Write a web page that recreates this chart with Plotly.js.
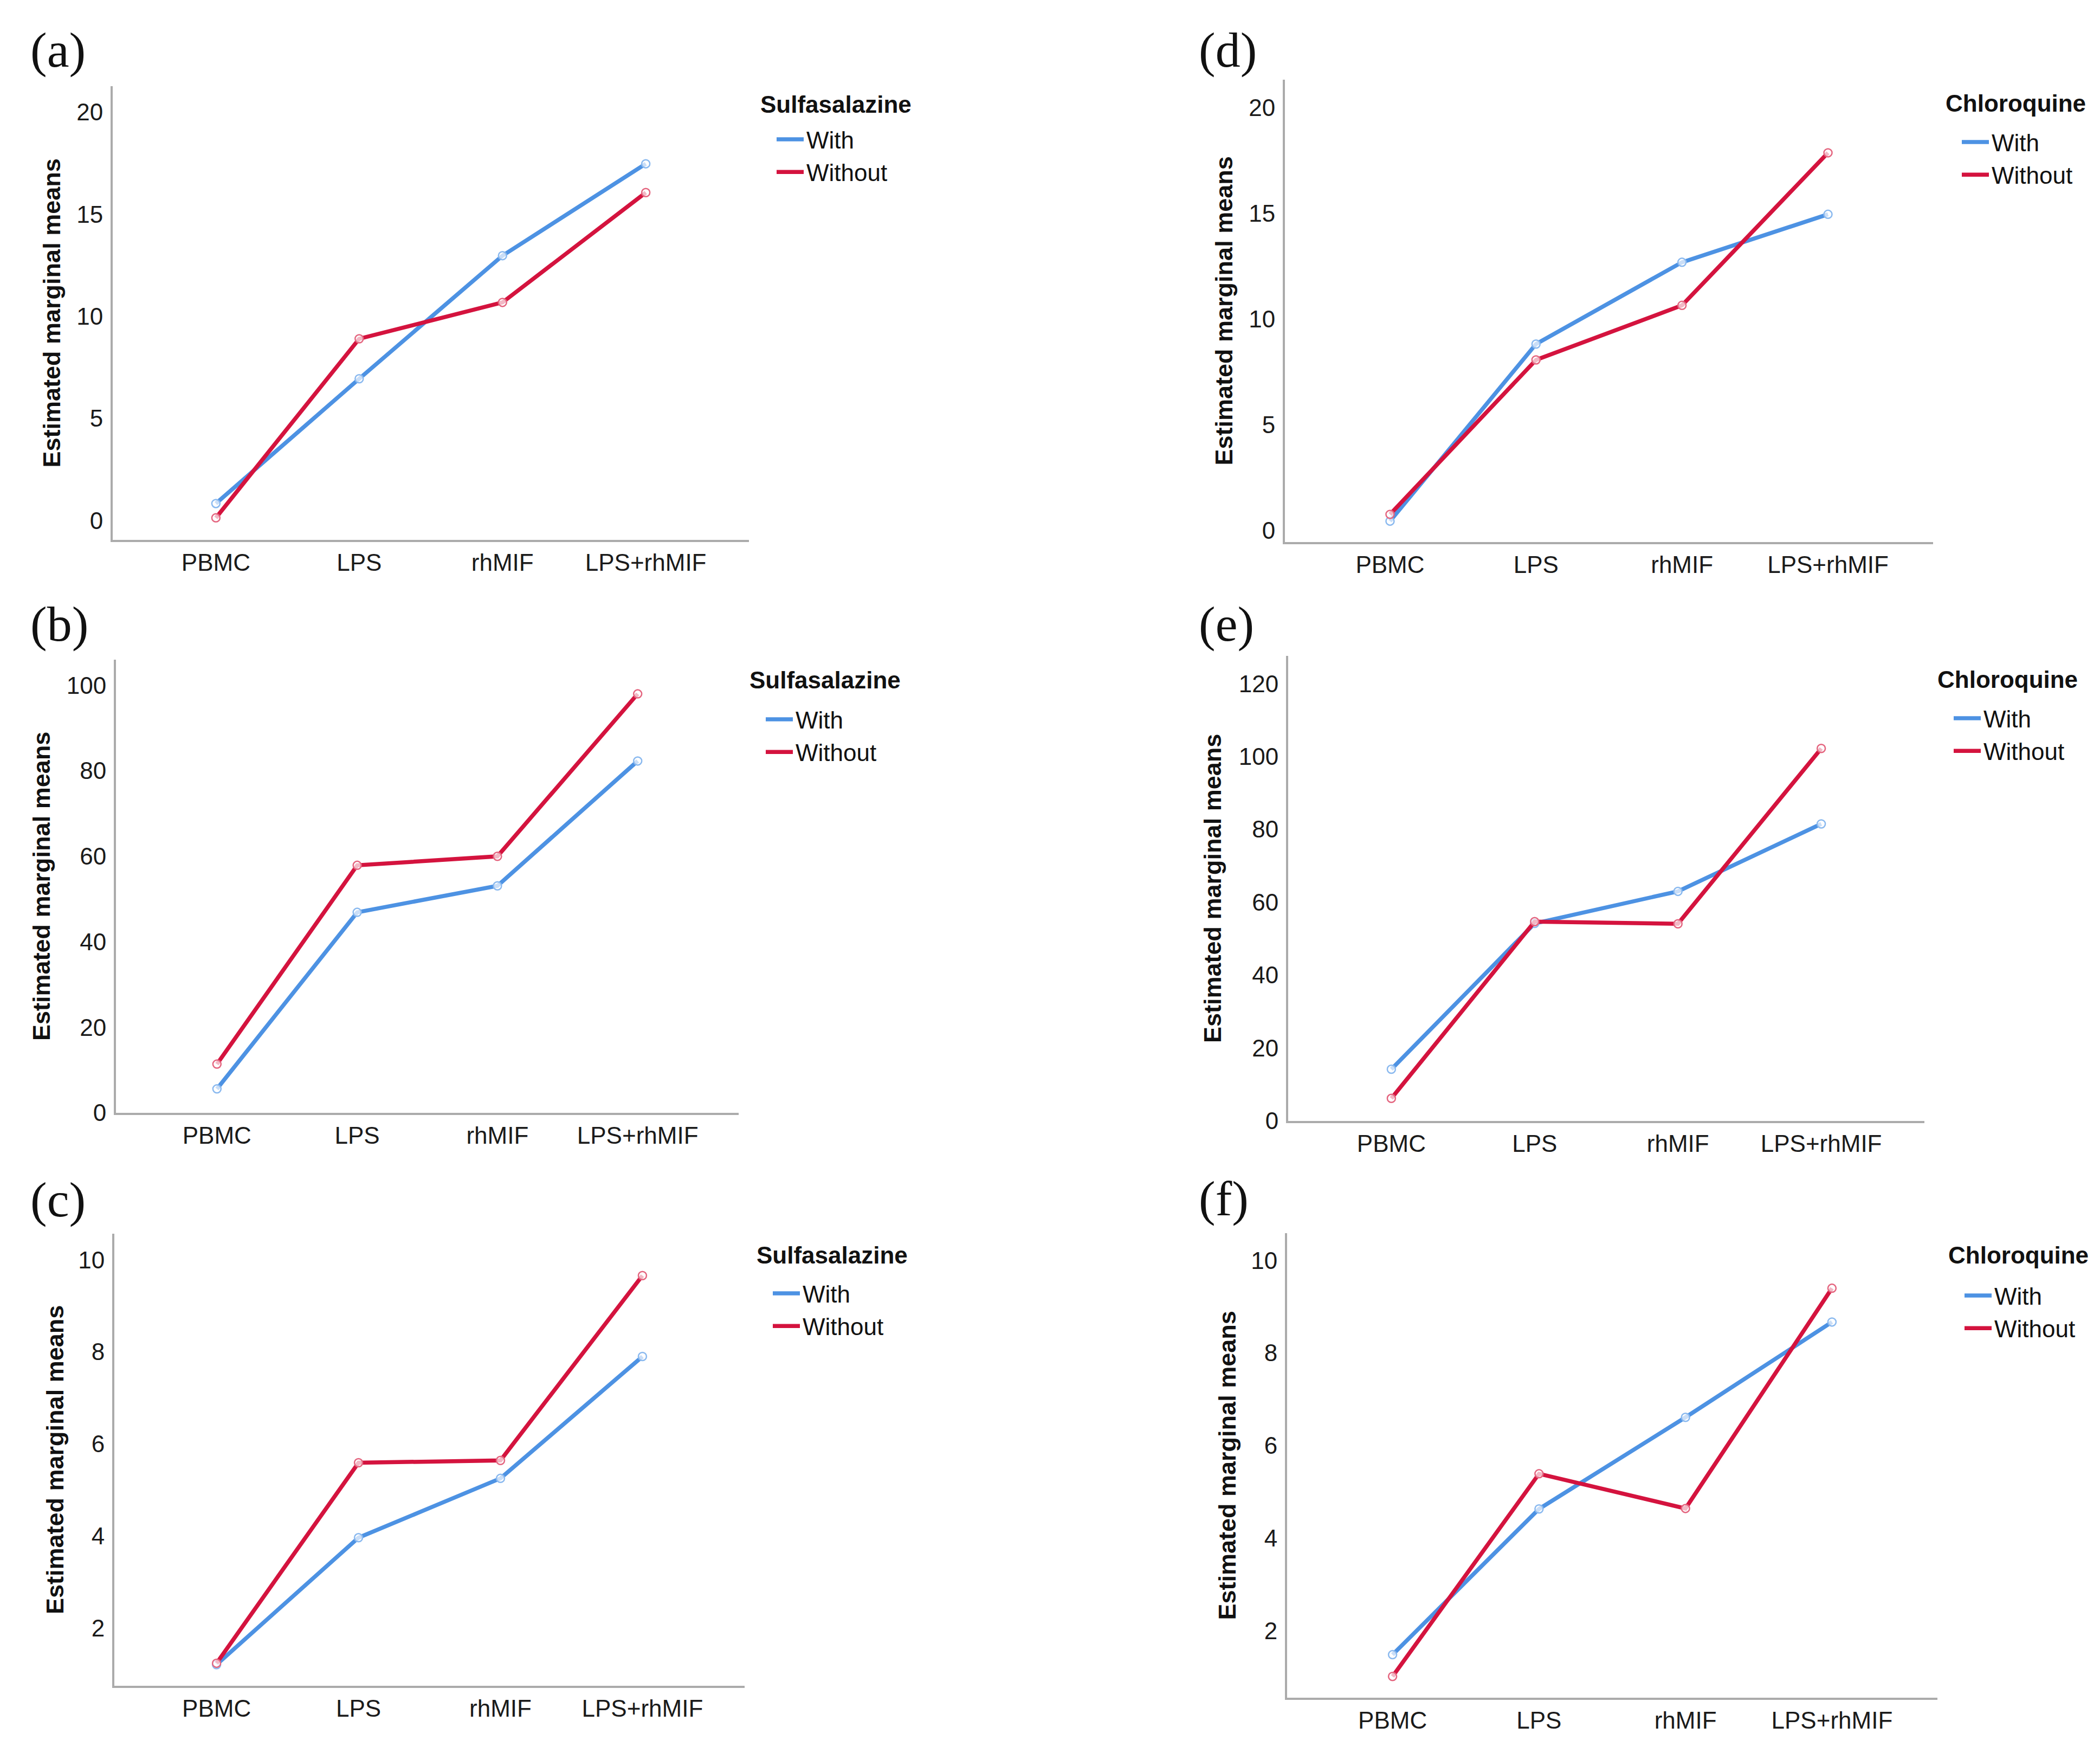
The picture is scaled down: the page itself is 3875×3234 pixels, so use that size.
<!DOCTYPE html>
<html><head><meta charset="utf-8">
<script src="https://cdn.plot.ly/plotly-3.0.1.min.js"></script>
<style>html,body{margin:0;padding:0;background:#fff}</style>
</head><body><div id="chart" style="width:3875px;height:3234px"></div>
<script>
// ---- data ----
const categories = ["PBMC", "LPS", "rhMIF", "LPS+rhMIF"];
const seriesNames = ["With", "Without"];
const a_with = [0.83, 6.94, 12.97, 17.47];
const a_without = [0.13, 8.90, 10.68, 16.06];
const b_with = [5.6, 46.9, 53.1, 82.3];
const b_without = [11.4, 57.9, 60.0, 98.0];
const c_with = [1.20, 3.96, 5.25, 7.90];
const c_without = [1.23, 5.59, 5.64, 9.66];
const d_with = [0.44, 8.82, 12.69, 14.96];
const d_without = [0.76, 8.07, 10.65, 17.87];
const e_with = [14.2, 54.2, 63.0, 81.5];
const e_without = [6.2, 54.7, 54.1, 102.2];
const f_with = [1.48, 4.63, 6.61, 8.67];
const f_without = [1.01, 5.39, 4.64, 9.40];
const ticks_a = [0, 5, 10, 15, 20];
const ticks_b = [0, 20, 40, 60, 80, 100];
const ticks_c = [2, 4, 6, 8, 10];
const ticks_d = [0, 5, 10, 15, 20];
const ticks_e = [0, 20, 40, 60, 80, 100, 120];
const ticks_f = [2, 4, 6, 8, 10];
const legendTitles = ["Sulfasalazine", "Sulfasalazine", "Sulfasalazine", "Chloroquine", "Chloroquine", "Chloroquine"];
const panelLabels = ["(a)", "(b)", "(c)", "(d)", "(e)", "(f)"];
const yTitle = "Estimated marginal means";

// ---- layout config (pixels in the 3875x3234 canvas) ----
const W = 3875, H = 3234;
const panels = [
  {w: a_with, wo: a_without, ticks: ticks_a, x0: 208, x1: 1382, y0: 159, y1: 996, yr: [-0.95, 21.27], lx: 54, ly: 92, tx: 95, gx: 1401, gy: 193, iy: 253},
  {w: b_with, wo: b_without, ticks: ticks_b, x0: 214, x1: 1363, y0: 1217, y1: 2053, yr: [0, 106], lx: 54, ly: 1151, tx: 76, gx: 1381, gy: 1255, iy: 1323},
  {w: c_with, wo: c_without, ticks: ticks_c, x0: 211, x1: 1374, y0: 2276, y1: 3110, yr: [0.74, 10.57], lx: 54, ly: 2213, tx: 101, gx: 1394, gy: 2315, iy: 2382},
  {w: d_with, wo: d_without, ticks: ticks_d, x0: 2371, x1: 3567, y0: 147, y1: 1000, yr: [-0.55, 21.33], lx: 2210, ly: 92, tx: 2258, gx: 3588, gy: 190, iy: 258},
  {w: e_with, wo: e_without, ticks: ticks_e, x0: 2377, x1: 3551, y0: 1210, y1: 2068, yr: [0, 127.6], lx: 2210, ly: 1151, tx: 2237, gx: 3573, gy: 1253, iy: 1321},
  {w: f_with, wo: f_without, ticks: ticks_f, x0: 2375, x1: 3575, y0: 2275, y1: 3132, yr: [0.55, 10.59], lx: 2210, ly: 2211, tx: 2264, gx: 3593, gy: 2315, iy: 2386}
];
const lineColors = ["#4D92E3", "#D4133E"];
const markerColors = ["#8AB9EF", "#E4657F"];
const FONT = "Liberation Sans, Arial, sans-serif";

const traces = [];
const layout = {
  width: W, height: H, margin: {l: 0, r: 0, t: 0, b: 0},
  paper_bgcolor: "#ffffff", plot_bgcolor: "#ffffff",
  font: {family: FONT, size: 44, color: "#1a1a1a"},
  annotations: [], showlegend: true
};

panels.forEach((p, i) => {
  const n = i + 1;
  const xa = "xaxis" + (n === 1 ? "" : n), ya = "yaxis" + (n === 1 ? "" : n);
  const xr = "x" + (n === 1 ? "" : n), yr = "y" + (n === 1 ? "" : n);
  const lg = "legend" + (n === 1 ? "" : n);
  [p.w, p.wo].forEach((vals, k) => {
    traces.push({
      type: "scatter", mode: "lines", x: categories, y: vals, xaxis: xr, yaxis: yr,
      name: seriesNames[k], legend: lg, showlegend: true,
      line: {color: lineColors[k], width: 7.5}, hoverinfo: "skip"
    });
    traces.push({
      type: "scatter", mode: "markers", x: categories, y: vals, xaxis: xr, yaxis: yr,
      showlegend: false, legend: lg,
      marker: {symbol: "circle", size: 15, color: "rgba(255,255,255,0.7)", line: {color: markerColors[k], width: 2.5}},
      hoverinfo: "skip"
    });
  });
  layout[xa] = {
    domain: [p.x0 / W, p.x1 / W], anchor: yr, range: [-0.72, 3.72], type: "category",
    showline: true, linecolor: "#ABABAB", linewidth: 4, showgrid: false, zeroline: false,
    ticks: "", ticklabelstandoff: 0, tickfont: {family: FONT, size: 44, color: "#1a1a1a"}, fixedrange: true
  };
  layout[ya] = {
    domain: [1 - p.y1 / H, 1 - p.y0 / H], anchor: xr, range: p.yr,
    tickvals: p.ticks, ticktext: p.ticks.map(String),
    showline: true, linecolor: "#ABABAB", linewidth: 4, showgrid: false, zeroline: false,
    ticks: "", ticklabelstandoff: 5, tickfont: {family: FONT, size: 44, color: "#1a1a1a"}, fixedrange: true
  };
  layout[lg] = {
    x: (p.gx + 27) / W, y: 1 - (p.iy - 31) / H, xref: "paper", yref: "paper", xanchor: "left", yanchor: "top",
    bgcolor: "rgba(0,0,0,0)", borderwidth: 0,
    font: {family: FONT, size: 44, color: "#111"}, tracegroupgap: 0, itemwidth: 50
  };
  // legend title
  layout.annotations.push({
    text: "<b>" + legendTitles[i] + "</b>", xref: "paper", yref: "paper", x: p.gx / W, y: 1 - p.gy / H,
    xanchor: "left", yanchor: "middle", showarrow: false,
    font: {family: FONT, size: 44, color: "#111"}
  });
  // panel label
  layout.annotations.push({
    text: panelLabels[i], xref: "paper", yref: "paper", x: p.lx / W, y: 1 - p.ly / H,
    xanchor: "left", yanchor: "middle", showarrow: false,
    font: {family: "Liberation Serif, Times New Roman, serif", size: 92, color: "#111"}
  });
  // y axis title
  layout.annotations.push({
    text: "<b>" + yTitle + "</b>", xref: "paper", yref: "paper", x: p.tx / W, y: 1 - ((p.y0 + p.y1) / 2) / H,
    xanchor: "center", yanchor: "middle", textangle: -90, showarrow: false,
    font: {family: FONT, size: 45, color: "#111"}
  });
});

Plotly.newPlot("chart", traces, layout, {staticPlot: true, displayModeBar: false});
</script></body></html>
